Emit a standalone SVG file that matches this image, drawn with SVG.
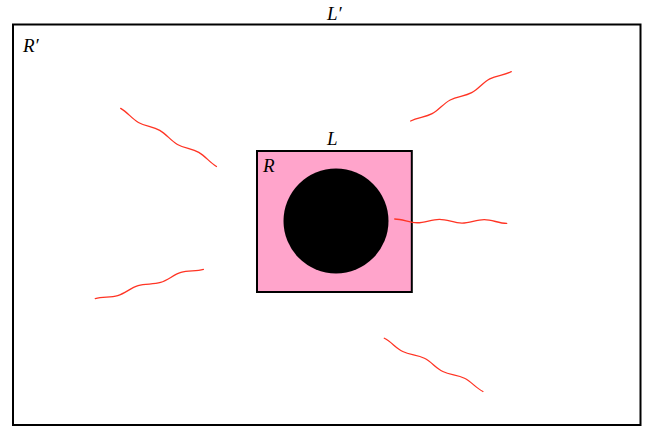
<svg xmlns="http://www.w3.org/2000/svg" xmlns:xlink="http://www.w3.org/1999/xlink" width="657" height="439" viewBox="0 0 657 439">
<style>
.frame{fill:none;stroke:#000;stroke-width:2}
.inner{fill:#ffa4cb;stroke:#000;stroke-width:2}
.lbl{font-family:"Liberation Serif","DejaVu Serif",serif;font-style:italic;font-size:19px;fill:#000}
.wave{fill:none;stroke:#ff3424;stroke-width:1.3;stroke-linecap:round}
</style>
<defs>
<path id="snake" d="M0,-1.8 c8.13,0 14.27,3.6 22.4,3.6 s14.27,-3.6 22.4,-3.6 s14.27,3.6 22.4,3.6 s14.27,-3.6 22.4,-3.6 s14.27,3.6 22.4,3.6"/>
</defs>
<rect x="0" y="0" width="657" height="439" fill="#fff"/>
<g id="outer">
<rect class="frame" x="13" y="24.5" width="627.5" height="400.5"/>
<text class="lbl" x="327" y="19.5">L′</text>
<text class="lbl" x="23" y="51.5">R′</text>
</g>
<g id="inner">
<rect class="inner" x="257" y="151" width="154.8" height="141"/>
<text class="lbl" x="327" y="144.5">L</text>
<text class="lbl" x="263" y="171.5">R</text>
</g>
<g id="disk">
<circle cx="336" cy="221" r="52.5" fill="#000"/>
</g>
<g id="connectors">
<use xlink:href="#snake" href="#snake" class="wave" transform="translate(119.8,109.9) rotate(29.4)"/>
<use xlink:href="#snake" href="#snake" class="wave" transform="translate(95.8,300.4) rotate(-17)"/>
<use xlink:href="#snake" href="#snake" class="wave" transform="translate(411.5,122.6) rotate(-28)"/>
<use xlink:href="#snake" href="#snake" class="wave" transform="translate(394.7,220.8) rotate(0.4)"/>
<use xlink:href="#snake" href="#snake" class="wave" transform="translate(383.5,339.9) rotate(26.5)"/>
</g>
</svg>
